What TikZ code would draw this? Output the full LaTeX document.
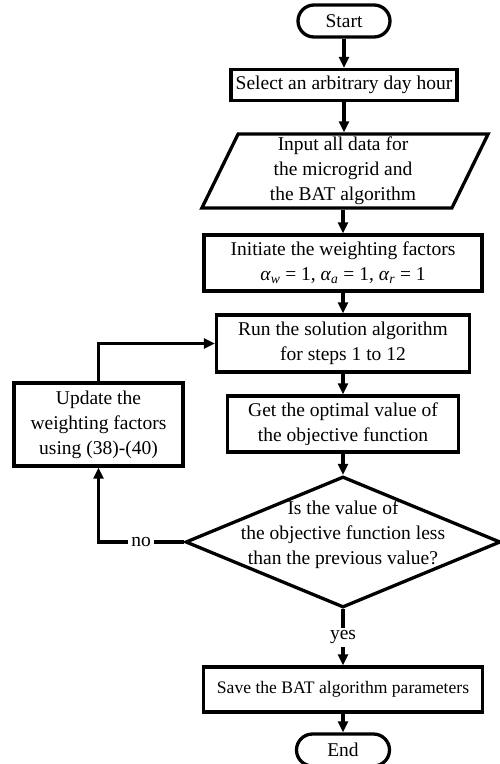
\documentclass[tikz,border=0pt]{standalone}
\usepackage{fontspec}
\setmainfont{Liberation Serif}
\usetikzlibrary{shapes.geometric,arrows.meta}
\begin{document}
\begin{tikzpicture}[x=1pt,y=-1pt,line width=3.3pt,>={Triangle[length=11pt,width=10pt]},
    every node/.style={draw,line width=3.3pt,align=center,inner sep=0,font=\fontsize{19.5}{25}\selectfont},
    term/.style={rounded corners=16pt,minimum height=32pt},
    io/.style={xslant=0.49},
    lbl/.style={draw=none,fill=white,inner sep=3pt}]
    \useasboundingbox (0,0) rectangle (500,764);
        \node[term,minimum width=92pt] (start) at (344,21) {Start};
        \node[minimum width=226pt,minimum height=31pt] (select) at (344,85) {Select an arbitrary day hour};
        \node[io,minimum width=250pt,minimum height=74pt] (input) at (345,171) {};
        \node[draw=none] (inputtext) at (343,171) {Input all data for\\the microgrid and\\the BAT algorithm};
        \node[minimum width=278pt,minimum height=56pt] (init) at (343,263)
              {Initiate the weighting factors\\\textit{α}\textsubscript{\textit{w}} = 1, \textit{α}\textsubscript{\textit{a}} = 1, \textit{α}\textsubscript{\textit{r}} = 1};
        \node[minimum width=253pt,minimum height=57pt] (run) at (343,343.5) {Run the solution algorithm\\for steps 1 to 12};
        \node[minimum width=231pt,minimum height=56pt] (get) at (343,424) {Get the optimal value of\\the objective function};
        \node[minimum width=169pt,minimum height=83pt] (update) at (98.5,424.5) {Update the\\weighting factors\\using (38)-(40)};
        \node[diamond,minimum width=315pt,minimum height=131pt] (test) at (343,542) {};
        \node[draw=none] (testtext) at (343,535) {Is the value of\\the objective function less\\than the previous value?};
        \node[minimum width=279pt,minimum height=45pt,font=\fontsize{17.6}{21}\selectfont] (save) at (343,689.5)
              {Save the BAT algorithm parameters};
        \node[term,minimum width=93pt] (end) at (343,750) {End};

    \draw[->] (start) -- (select);
    \draw[->] (select.south) -- (select.south |- input.north);
    \draw[->] (input.south -| init.north) -- (init.north);
    \draw[->] (init) -- (run);
    \draw[->] (run) -- (get);
    \draw[->] (get) -- (test);
    \draw[->] (test.west) -- node[lbl] (no) {no} (update.south |- test.west) -- (update.south);
    \draw[->] (update.north) |- (run.west);
    \draw[->] (test.south) -- node[lbl] (yes) {yes} (save.north);
    \draw[->] (save) -- (end);
    \end{tikzpicture}
\end{document}
